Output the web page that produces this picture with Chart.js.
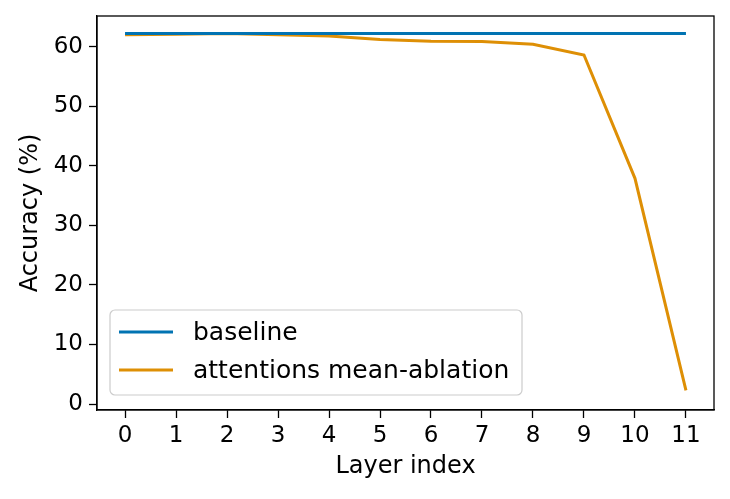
<!DOCTYPE html>
<html>
<head>
<meta charset="utf-8">
<script src="https://cdn.jsdelivr.net/npm/chart.js@4.4.0/dist/chart.umd.min.js"></script>
<style>
  html, body { margin: 0; padding: 0; background: #fff; }
  #wrap { width: 730px; height: 499px; }
</style>
</head>
<body>
<div id="wrap"><canvas id="myChart"></canvas></div>
<script>
const layers = [0, 1, 2, 3, 4, 5, 6, 7, 8, 9, 10, 11];
const baseline = [62.2, 62.2, 62.2, 62.2, 62.2, 62.2, 62.2, 62.2, 62.2, 62.2, 62.2, 62.2];
const ablation = [62.0, 62.1, 62.2, 62.0, 61.8, 61.2, 60.9, 60.85, 60.4, 58.6, 37.9, 2.3];
const yTicks = [0, 10, 20, 30, 40, 50, 60];

const font = 'DejaVu Sans';

function pts(ys) {
  return layers.map((x, i) => ({ x: x, y: ys[i] }));
}

// box round the plot, like matplotlib
const frame = {
  id: 'frame',
  afterDraw(chart) {
    const a = chart.chartArea, c = chart.ctx;
    c.save();
    c.strokeStyle = '#000';
    c.lineWidth = 1.3;
    c.strokeRect(a.left, a.top, a.right - a.left, a.bottom - a.top);
    c.restore();
  }
};

// legend drawn inside the plot, lower left
const innerLegend = {
  id: 'innerLegend',
  afterDraw(chart) {
    const a = chart.chartArea, c = chart.ctx;
    const x = a.left + 13, y = a.bottom - 100, w = 412, h = 85, r = 5;
    c.save();
    c.fillStyle = 'rgba(255,255,255,0.8)';
    c.strokeStyle = '#cccccc';
    c.lineWidth = 1.2;
    c.beginPath();
    c.roundRect(x, y, w, h, r);
    c.fill();
    c.stroke();
    c.font = '25px ' + font;
    c.textBaseline = 'middle';
    chart.data.datasets.forEach((ds, i) => {
      const ly = y + 22 + i * 38;
      c.strokeStyle = ds.borderColor;
      c.lineWidth = 3;
      c.beginPath();
      c.moveTo(x + 9, ly);
      c.lineTo(x + 63, ly);
      c.stroke();
      c.fillStyle = '#000';
      c.fillText(ds.label, x + 83, ly + 1);
    });
    c.restore();
  }
};

new Chart(document.getElementById('myChart'), {
  type: 'line',
  data: {
    datasets: [{
      label: 'baseline',
      data: pts(baseline),
      borderColor: '#0173b2',
      borderWidth: 3,
      pointRadius: 0,
      tension: 0
    }, {
      label: 'attentions mean-ablation',
      data: pts(ablation),
      borderColor: '#de8f05',
      borderWidth: 3,
      pointRadius: 0,
      tension: 0
    }]
  },
  options: {
    responsive: true,
    maintainAspectRatio: false,
    animation: false,
    layout: { padding: { top: 16, right: 16, left: 0, bottom: 0 } },
    plugins: {
      legend: { display: false },
      tooltip: { enabled: false }
    },
    scales: {
      x: {
        type: 'linear',
        min: -0.55,
        max: 11.55,
        afterBuildTicks(s) { s.ticks = layers.map(v => ({ value: v })); },
        afterFit(s) { s.height = 89; s.paddingLeft = 0; s.paddingRight = 0; },
        grid: { drawOnChartArea: false, color: '#000', tickLength: 8, tickWidth: 1.3 },
        border: { color: '#000', width: 1.3 },
        ticks: { color: '#000', font: { family: font, size: 23 }, padding: 4, maxRotation: 0 },
        title: { display: true, text: 'Layer index', color: '#000', font: { family: font, size: 24 }, padding: { top: 0, bottom: 18 } }
      },
      y: {
        min: -1.0,
        max: 65.15,
        afterBuildTicks(s) { s.ticks = yTicks.map(v => ({ value: v })); },
        afterFit(s) { s.width = 97; s.paddingTop = 0; s.paddingBottom = 0; },
        grid: { drawOnChartArea: false, color: '#000', tickLength: 8, tickWidth: 1.3 },
        border: { color: '#000', width: 1.3 },
        ticks: { color: '#000', font: { family: font, size: 23 }, padding: 6 },
        title: { display: true, text: 'Accuracy (%)', color: '#000', font: { family: font, size: 24 }, padding: { top: 16, bottom: 0 } }
      }
    }
  },
  plugins: [frame, innerLegend]
});
</script>
</body>
</html>
